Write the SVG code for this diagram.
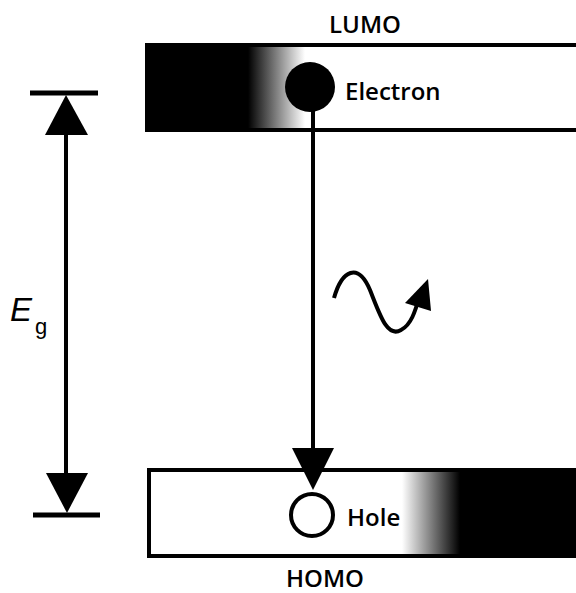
<svg xmlns="http://www.w3.org/2000/svg" width="576" height="593" viewBox="0 0 576 593">
<defs>
<linearGradient id="gL" gradientUnits="userSpaceOnUse" x1="248" y1="0" x2="305" y2="0">
<stop offset="0" stop-color="#000"/><stop offset="1" stop-color="#fff"/>
</linearGradient>
<linearGradient id="gH" gradientUnits="userSpaceOnUse" x1="402" y1="0" x2="460" y2="0">
<stop offset="0" stop-color="#fff"/><stop offset="1" stop-color="#000"/>
</linearGradient>
</defs>
<style>
.lbl{font-family:"Open Sans","Liberation Sans",sans-serif;font-weight:600;font-size:24px;fill:#000}
.band{stroke:#000;stroke-width:4}
.ln{stroke:#000;stroke-width:4;fill:none}
</style>
<rect width="576" height="593" fill="#fff"/>
<g id="lumo">
<rect class="band" x="147" y="45" width="440" height="85" fill="url(#gL)"/>
<text class="lbl" x="365" y="33" text-anchor="middle">LUMO</text>
</g>
<g id="homo">
<rect class="band" x="149" y="470" width="440" height="86" fill="url(#gH)"/>
<text class="lbl" x="325" y="587" text-anchor="middle">HOMO</text>
</g>
<g id="connectors">
<line class="ln" x1="313" y1="105" x2="313" y2="452"/>
<polygon points="292,448 334,448 313,490" fill="#000"/>
<line class="ln" x1="66" y1="130" x2="66" y2="478"/>
<line x1="30" y1="93" x2="98" y2="93" stroke="#000" stroke-width="5"/>
<line x1="33" y1="515" x2="100" y2="515" stroke="#000" stroke-width="5"/>
<polygon points="66,95 45,135 88,135" fill="#000"/>
<polygon points="46,473 88,473 67,513" fill="#000"/>
<path class="ln" stroke-width="5" d="M334,298 C342,270 358,262 370,290 C380,315 387,338 401,330 C411,325 415,312 420,295"/>
<polygon points="428,279 405,303 431,311" fill="#000"/>
</g>
<g id="electron">
<circle cx="310" cy="87" r="25" fill="#000"/>
<text class="lbl" x="345" y="100">Electron</text>
</g>
<g id="hole">
<circle cx="312" cy="515" r="21" fill="#fff" stroke="#000" stroke-width="4"/>
<text class="lbl" x="347" y="526">Hole</text>
</g>
<g id="eg">
<text x="10" y="321" font-family="Liberation Sans,Arial,sans-serif" font-style="italic" font-size="33">E</text>
<text x="35" y="334" font-family="Liberation Sans,Arial,sans-serif" font-size="22">g</text>
</g>
</svg>
